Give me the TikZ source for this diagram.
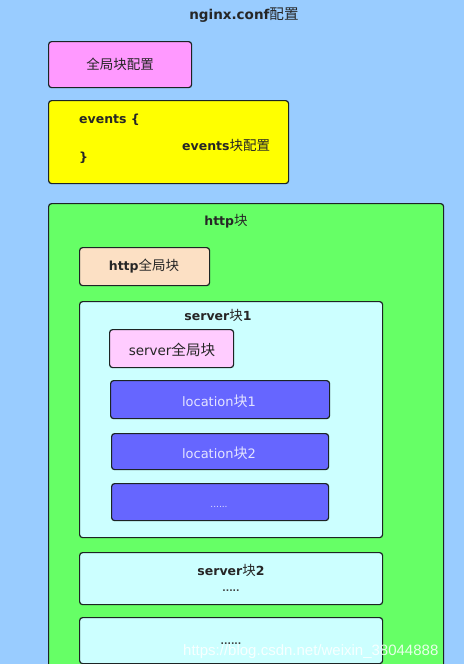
\documentclass[tikz,border=0pt]{standalone}
\usepackage{fontspec}
\setmainfont{DejaVu Sans}
\newfontfamily\cjk[Scale=1.08]{Noto Sans CJK SC}
\newfontfamily\wmfont{Liberation Sans}
\newcommand{\zh}[1]{{\cjk\mdseries #1}}
\definecolor{bgblue}{HTML}{99CCFF}
\definecolor{pinkbox}{HTML}{FF99FF}
\definecolor{yellowbox}{HTML}{FFFF00}
\definecolor{greenbox}{HTML}{66FF66}
\definecolor{peachbox}{HTML}{FCE0C4}
\definecolor{cyanbox}{HTML}{CCFFFF}
\definecolor{lpinkbox}{HTML}{FFCCFF}
\definecolor{bluebox}{HTML}{6666FF}
\definecolor{edge}{HTML}{1C2424}
\definecolor{loctext}{HTML}{E4E4FF}
\begin{document}
\begin{tikzpicture}[x=1pt,y=-1pt,
  box/.style={draw=edge, line width=1.2pt, rounded corners=3pt, inner sep=0pt, anchor=north west},
  lbl/.style={font=\bfseries\fontsize{12.5}{14}\selectfont, text=black!85, inner sep=0pt},
  loclbl/.style={font=\fontsize{13}{15}\selectfont, text=loctext, inner sep=0pt},
  dots/.style={font=\bfseries\fontsize{9}{10}\selectfont, text=black!75, inner sep=0pt}]
\useasboundingbox (0,0) rectangle (464,664);
\clip (0,0) rectangle (464,664);
\fill[bgblue] (0,0) rectangle (464,664);
\node[lbl, font=\bfseries\fontsize{13.5}{15}\selectfont] (title) at (244,15) {nginx.conf\zh{配置}};
% global block
\node[box, fill=pinkbox, minimum width=143pt, minimum height=46pt] (global) at (48,41) {};
\node[lbl] (globaltxt) at (120,64) {\zh{全局块配置}};
% events block
\node[box, fill=yellowbox, minimum width=240pt, minimum height=83pt] (events) at (48,100) {};
\node[lbl, anchor=west] (evopen) at (79,120) {events \{};
\node[lbl, anchor=west] (evclose) at (79,158) {\}};
\node[lbl, anchor=west] (evtxt) at (182,145) {events\zh{块配置}};
% http block
\node[box, fill=greenbox, minimum width=395pt, minimum height=520pt] (http) at (48,203) {};
\node[lbl] (httptxt) at (226,221) {http\zh{块}};
\node[box, fill=peachbox, minimum width=130pt, minimum height=38pt] (httpglobal) at (79,247) {};
\node[lbl] (httpglobaltxt) at (144,266) {http\zh{全局块}};
% server 1
\node[box, fill=cyanbox, minimum width=303pt, minimum height=236pt] (server1) at (79,301) {};
\node[lbl] (server1txt) at (218,315) {server\zh{块}1};
\node[box, fill=lpinkbox, minimum width=124pt, minimum height=38pt] (serverglobal) at (109,329) {};
\node[lbl, font=\fontsize{13.5}{15}\selectfont] (serverglobaltxt) at (172,350) {server\zh{全局块}};
\node[box, fill=bluebox, minimum width=219pt, minimum height=38pt] (loc1) at (110,380) {};
\node[loclbl] (loc1txt) at (219,401) {location\zh{块}1};
\node[box, fill=bluebox, minimum width=217pt, minimum height=36pt] (loc2) at (111,433) {};
\node[loclbl] (loc2txt) at (219,453) {location\zh{块}2};
\node[box, fill=bluebox, minimum width=217pt, minimum height=37pt] (loc3) at (111,483) {};
\node[loclbl, font=\fontsize{9}{10}\selectfont] (loc3txt) at (219,507) {......};
% server 2
\node[box, fill=cyanbox, minimum width=303pt, minimum height=52pt] (server2) at (79,552) {};
\node[lbl] (server2txt) at (231,570) {server\zh{块}2};
\node[dots] (server2dots) at (231,591) {.....};
% server n
\node[box, fill=cyanbox, minimum width=303pt, minimum height=46pt] (server3) at (79,617) {};
\node[dots] (server3dots) at (231,644) {......};
% watermark
\node[font=\wmfont\fontsize{15}{17}\selectfont, text=white, opacity=0.85, anchor=base west, inner sep=0pt] (wm) at (183,655) {https://blog.csdn.net/weixin\_38044888};
\end{tikzpicture}
\end{document}
